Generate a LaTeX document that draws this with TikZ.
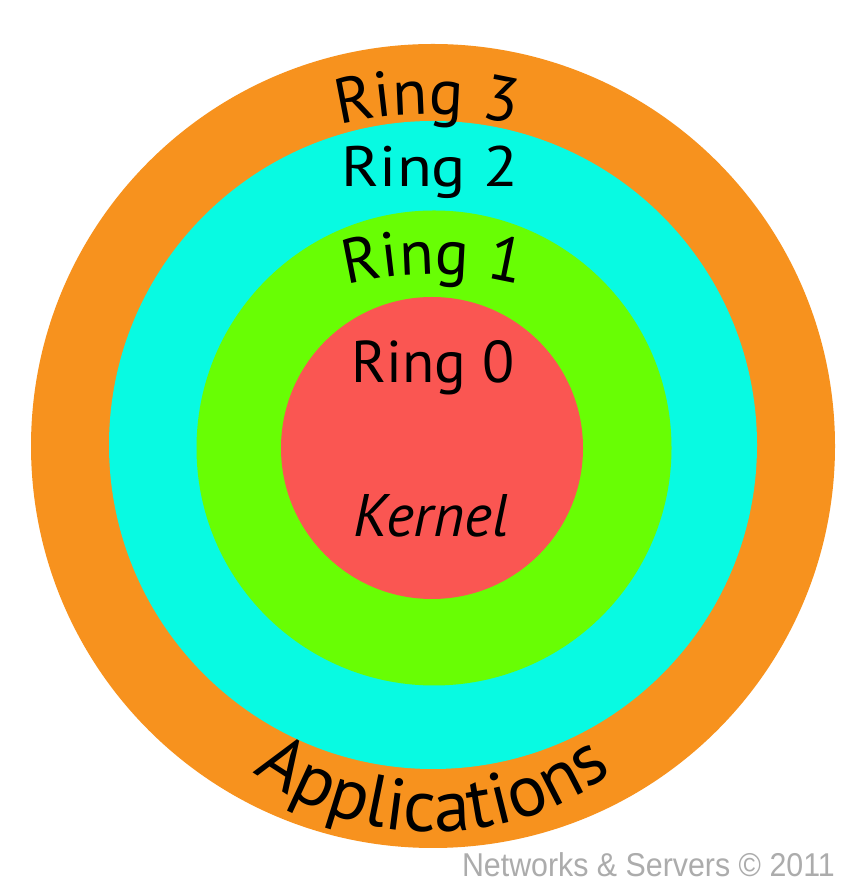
\documentclass[tikz,border=0pt]{standalone}
\usepackage{fontspec}
\setmainfont{PT Sans}
\newfontfamily\wmfont{Liberation Sans}
\usetikzlibrary{decorations.text}
\definecolor{ringorange}{RGB}{247,146,30}
\definecolor{ringcyan}{RGB}{8,250,226}
\definecolor{ringgreen}{RGB}{104,254,4}
\definecolor{ringred}{RGB}{250,86,82}
\definecolor{wmgray}{RGB}{172,172,172}
\begin{document}
\begin{tikzpicture}[x=1pt,y=1pt,
  ring/.style={circle, inner sep=0pt, minimum size=#1},
  arclabel/.style={decorate, decoration={text along path, text format delimiters={|}{|}, text align=center, text={#1}}},
  flatlabel/.style={anchor=base, inner sep=0pt}
]
\path[fill=white] (0,0) rectangle (855,888);
\useasboundingbox (0,0) rectangle (855,888);
% rings
\node[ring=804pt, fill=ringorange] (r3) at (433,442) {};
\node[ring=648pt, fill=ringcyan] (r2) at (433,443) {};
\node[ring=475pt, fill=ringgreen] (r1) at (434,440) {};
\node[ring=302pt, fill=ringred] (r0) at (432,440) {};
% arched labels
\path[arclabel={|\fontsize{64}{64}\selectfont|Ring 3}] ([shift={(110:360)}]427,414) arc[start angle=110, end angle=70, radius=360];
\path[arclabel={|\fontsize{63}{64}\selectfont|Ring 1}] ([shift={(110:350)}]433,264) arc[start angle=110, end angle=70, radius=350];
\path[arclabel={|\fontsize{73}{74}\selectfont|Applications}] ([shift={(225:300)}]433,356) arc[start angle=225, end angle=315, radius=300];
% flat labels
\node[flatlabel, xscale=1.12, font=\fontsize{57}{60}\selectfont] (t2) at (430,701) {Ring 2};
\node[flatlabel, font=\fontsize{59}{60}\selectfont] (t0) at (433,505) {Ring 0};
\node[flatlabel, font=\fontsize{60}{60}\selectfont\itshape] (tk) at (431,351) {Kernel};
% watermark
\node[anchor=base east, inner sep=0pt, text=wmgray, xscale=0.92, font=\wmfont\fontsize{33}{33}\selectfont] (wm) at (835,12) {Networks \& Servers © 2011};
\end{tikzpicture}
\end{document}
